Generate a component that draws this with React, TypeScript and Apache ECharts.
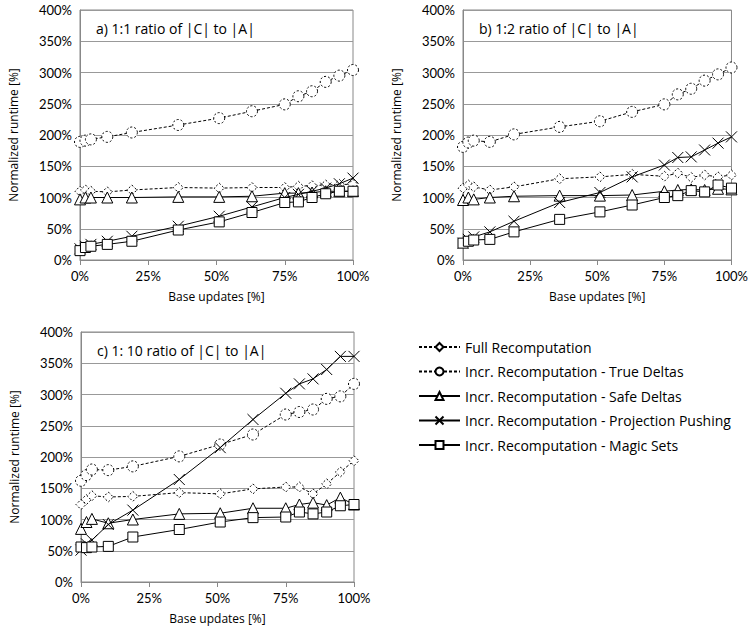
import React, { useEffect, useRef } from "react";
import * as echarts from "echarts";

const xs = [0, 2, 4, 10, 19, 36, 51, 63, 75, 80, 85, 90, 95, 100];

const seriesNames = [
  "Full Recomputation",
  "Incr. Recomputation - True Deltas",
  "Incr. Recomputation - Safe Deltas",
  "Incr. Recomputation - Projection Pushing",
  "Incr. Recomputation - Magic Sets",
];

// Panel a) 1:1
const aFull = [110, 112, 110, 109, 112, 116, 115, 116, 116, 118, 119, 120, 121, 121];
const aTrue = [189, 191, 193, 197, 204, 216, 227, 238, 249, 262, 270, 285, 295, 304];
const aSafe = [97, 100, 100, 100, 100, 101, 101, 102, 107, 107, 108, 110, 110, 110];
const aProj = [18, 22, 25, 30, 38, 54, 70, 85, 100, 105, 110, 115, 122, 131];
const aMagic = [15, 20, 22, 25, 30, 48, 61, 76, 92, 93, 100, 106, 110, 110];

// Panel b) 1:2
const bFull = [115, 120, 117, 112, 117, 130, 133, 137, 134, 139, 132, 136, 133, 136];
const bTrue = [181, 188, 191, 189, 201, 213, 222, 237, 249, 265, 274, 287, 297, 308];
const bSafe = [96, 100, 97, 100, 102, 103, 103, 104, 110, 112, 113, 112, 114, 113];
const bProj = [27, 33, 37, 45, 62, 92, 108, 133, 152, 164, 165, 176, 187, 197];
const bMagic = [27, 30, 32, 33, 45, 65, 77, 88, 100, 103, 111, 109, 120, 115];

// Panel c) 1:10
const cFull = [124, 132, 138, 136, 137, 143, 141, 149, 152, 152, 141, 157, 176, 194];
const cTrue = [162, 171, 180, 179, 185, 201, 220, 236, 268, 272, 276, 293, 297, 317];
const cSafe = [85, 96, 101, 94, 100, 109, 110, 118, 118, 124, 127, 123, 135, 124];
const cProj = [51, 61, 67, 92, 115, 164, 215, 260, 302, 317, 325, 340, 361, 361];
const cMagic = [56, 55, 56, 57, 72, 84, 96, 103, 104, 112, 109, 112, 122, 124];

const panelTitles = [
  "a) 1:1 ratio of |C| to |A|",
  "b) 1:2 ratio of |C| to |A|",
  "c) 1: 10 ratio of |C| to |A|",
];

const yTicks = [0, 50, 100, 150, 200, 250, 300, 350, 400];
const xTicks = [0, 25, 50, 75, 100];
const yAxisTitle = "Normalized runtime [%]";
const xAxisTitle = "Base updates [%]";

const FONT = "Lato";
const FONT2 = "Open Sans";
const CROSS = "path://M0,0L10,10M10,0L0,10";

export default function App() {
  const ref = useRef<HTMLDivElement>(null);
  useEffect(() => {
    document.body.style.margin = "0";
    const chart = echarts.init(ref.current!, null, { renderer: "svg" });
    const panels = [
      [aFull, aTrue, aSafe, aProj, aMagic],
      [bFull, bTrue, bSafe, bProj, bMagic],
      [cFull, cTrue, cSafe, cProj, cMagic],
    ];
    const grids = [
      { left: 80, top: 10, width: 273, height: 250 },
      { left: 463, top: 10, width: 273, height: 250 },
      { left: 81, top: 332, width: 273, height: 250 },
    ];
    const styles = [
      { symbol: "diamond", size: 10, dashed: true },
      { symbol: "circle", size: 11, dashed: true },
      { symbol: "triangle", size: 11, dashed: false },
      { symbol: CROSS, size: 11, dashed: false },
      { symbol: "rect", size: 10, dashed: false },
    ];
    const series: any[] = [];
    panels.forEach((p, pi) => {
      p.forEach((vals, si) => {
        const st = styles[si];
        series.push({
          type: "line",
          name: seriesNames[si],
          xAxisIndex: pi,
          yAxisIndex: pi,
          data: xs.map((x, i) => [x, vals[i]]),
          symbol: st.symbol,
          symbolSize: st.size,
          showAllSymbol: true,
          lineStyle: { color: "#000", width: 1, type: st.dashed ? [3, 2] : "solid" },
          itemStyle: {
            color: "#fff",
            borderColor: "#000",
            borderWidth: 1,
            borderType: st.dashed ? [2, 2] : "solid",
          },
          emphasis: { disabled: true },
          z: 2 + si,
        });
      });
    });
    chart.setOption({
      animation: false,
      textStyle: { fontFamily: FONT },
      title: panelTitles.map((t, i) => ({
        text: t,
        left: grids[i].left + 11,
        top: grids[i].top + 6,
        textStyle: { fontFamily: FONT2, fontSize: 14, fontWeight: "normal", color: "#000" },
      })),
      graphic: grids.map((g) => ({
        type: "text",
        x: g.left - 67,
        y: g.top + g.height / 2,
        rotation: Math.PI / 2,
        style: {
          text: yAxisTitle,
          fontFamily: FONT2,
          fontSize: 12,
          fill: "#000",
          textAlign: "center",
          textVerticalAlign: "middle",
        },
      })),
      grid: grids.map((g) => ({ ...g, show: true, borderColor: "#888", borderWidth: 1, backgroundColor: "transparent" })),
      xAxis: grids.map((_, i) => ({
        type: "value",
        gridIndex: i,
        min: xTicks[0],
        max: xTicks[xTicks.length - 1],
        interval: 25,
        name: xAxisTitle,
        nameLocation: "middle",
        nameGap: 30,
        nameTextStyle: { fontFamily: FONT2, fontSize: 12, color: "#000" },
        axisLine: { show: true, lineStyle: { color: "#888" } },
        axisTick: { show: true, length: 5, lineStyle: { color: "#888" } },
        axisLabel: { formatter: "{value}%", fontFamily: FONT, fontSize: 13, color: "#000", margin: 9 },
        splitLine: { show: false },
      })),
      yAxis: grids.map((_, i) => ({
        type: "value",
        gridIndex: i,
        min: yTicks[0],
        max: yTicks[yTicks.length - 1],
        interval: 50,
        axisLine: { show: true, lineStyle: { color: "#888" } },
        axisTick: { show: false },
        axisLabel: { formatter: "{value}%", fontFamily: FONT, fontSize: 13, color: "#000", margin: 8 },
        splitLine: { show: true, lineStyle: { color: "#999", width: 1 } },
      })),
      legend: {
        orient: "vertical",
        left: 413,
        top: 335,
        itemWidth: 41,
        itemHeight: 10,
        itemGap: 10.5,
        data: seriesNames,
        textStyle: { fontFamily: FONT2, fontSize: 14, color: "#000" },
        selectedMode: false,
      },
      series,
    });
    return () => chart.dispose();
  }, []);
  return <div ref={ref} style={{ width: 751, height: 632 }} />;
}
